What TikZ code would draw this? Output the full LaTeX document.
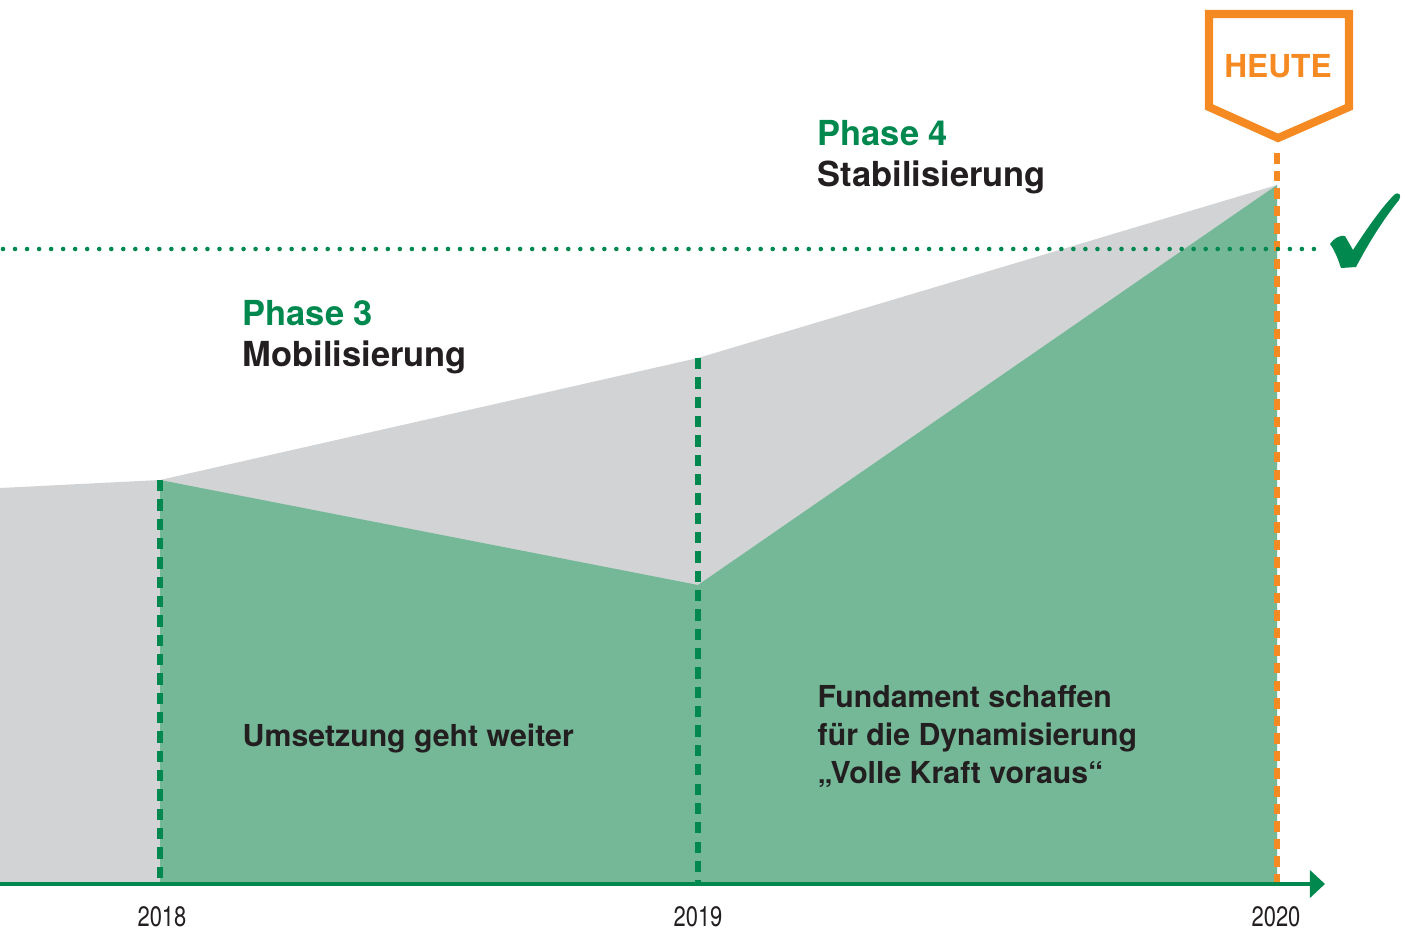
\documentclass[tikz,border=0pt]{standalone}
\usepackage{fontspec}
\setmainfont{TeX Gyre Heros}
\newfontfamily\yearfont[FakeStretch=0.78]{TeX Gyre Heros}
\usetikzlibrary{arrows.meta}

\definecolor{areagray}{HTML}{D1D3D4}
\definecolor{areagreen}{HTML}{74B898}
\definecolor{darkgreen}{HTML}{00884F}
\definecolor{heuteorange}{HTML}{F58A23}
\definecolor{textdark}{HTML}{231F20}

\tikzset{
  phase/.style={anchor=base west,inner sep=0pt,font=\fontsize{9.8pt}{11pt}\selectfont\bfseries,text=darkgreen},
  phasename/.style={phase,text=textdark},
  inside/.style={anchor=base west,inner sep=0pt,align=left,font=\fontsize{8.6pt}{10.7pt}\selectfont\bfseries,text=textdark},
  year/.style={inner sep=0pt,font=\fontsize{8pt}{9pt}\yearfont,text=textdark},
  yearline/.style={draw=darkgreen,line width=1.45pt,dash pattern=on 3.2pt off 2.3pt},
}

\begin{document}
\begin{tikzpicture}[x=0.01cm,y=-0.01cm]
        \useasboundingbox (0,0) rectangle (1405,933);

        % corners of the two areas
        \coordinate (g0) at (0,488);
        \coordinate (g1) at (160,480);
        \coordinate (g2) at (698,358);
        \coordinate (g3) at (1277,185);
        \coordinate (s2) at (698,585);
        \coordinate (b1) at (160,884);
        \coordinate (b2) at (698,884);
        \coordinate (b3) at (1277,884);
        \coordinate (b0) at (0,884);

        \fill[areagray] (g0) -- (g1) -- (g2) -- (g3) -- (b3) -- (b0) -- cycle;
        \fill[areagreen] (g1) -- (s2) -- (g3) -- (b3) -- (b1) -- cycle;

        % year lines
        \path [yearline](g1) edge (b1);
        \path [yearline](g2) edge (b2);
        \coordinate (h0) at (1277,153);
        \draw [draw=heuteorange,line width=1.45pt,dash pattern=on 3pt off 2pt](h0) -- (b3);

        % goal line
        \coordinate (d0) at (3,249);
        \coordinate (d1) at (1322,249);
        \draw [darkgreen,line width=1.3pt,line cap=round,dash pattern=on 0pt off 3.42pt](d0) -- (d1);

        % check mark
        \fill[darkgreen] (1330,244) .. controls (1334,238) and (1340,235) .. (1345,236)
          -- (1353,250) .. controls (1368,227) and (1382,207) .. (1395,194)
          .. controls (1399,192) and (1402,195) .. (1399,200)
          .. controls (1382,221) and (1367,246) .. (1356,267)
          -- (1341,268) .. controls (1338,259) and (1335,251) .. (1330,244) -- cycle;

        % time axis
        \coordinate (a1) at (1325,884);
        \draw [darkgreen,line width=1.4pt,-{Triangle[length=4.3pt,width=7.7pt]}](b0) -- (a1);

        \node[year] (y18) at (162,917) {2018};
        \node[year] (y19) at (698,917) {2019};
        \node[year] (y20) at (1276,917) {2020};

        % today marker
        \draw [heuteorange,line width=2.3pt,miter limit=10] (1209,14) -- (1349,14) -- (1349,107) -- (1278,138) -- (1209,107) -- cycle;
        \node[inner sep=0pt,font=\fontsize{9pt}{10pt}\selectfont\bfseries,text=heuteorange] (heute) at (1278,66) {HEUTE};

        % phases
        \node[phase] (p3) at (242,325) {Phase 3};
        \node[phasename] (p3n) at (242,366) {Mobilisierung};
        \node[phase] (p4) at (817,145) {Phase 4};
        \node[phasename] (p4n) at (817,186) {Stabilisierung};

        \node[inside] (um) at (242,746) {Umsetzung geht weiter};
        \node[inside] (fu) at (817,783) {Fundament schaffen\\für die Dynamisierung\\„Volle Kraft voraus“};
    \end{tikzpicture}
\end{document}
